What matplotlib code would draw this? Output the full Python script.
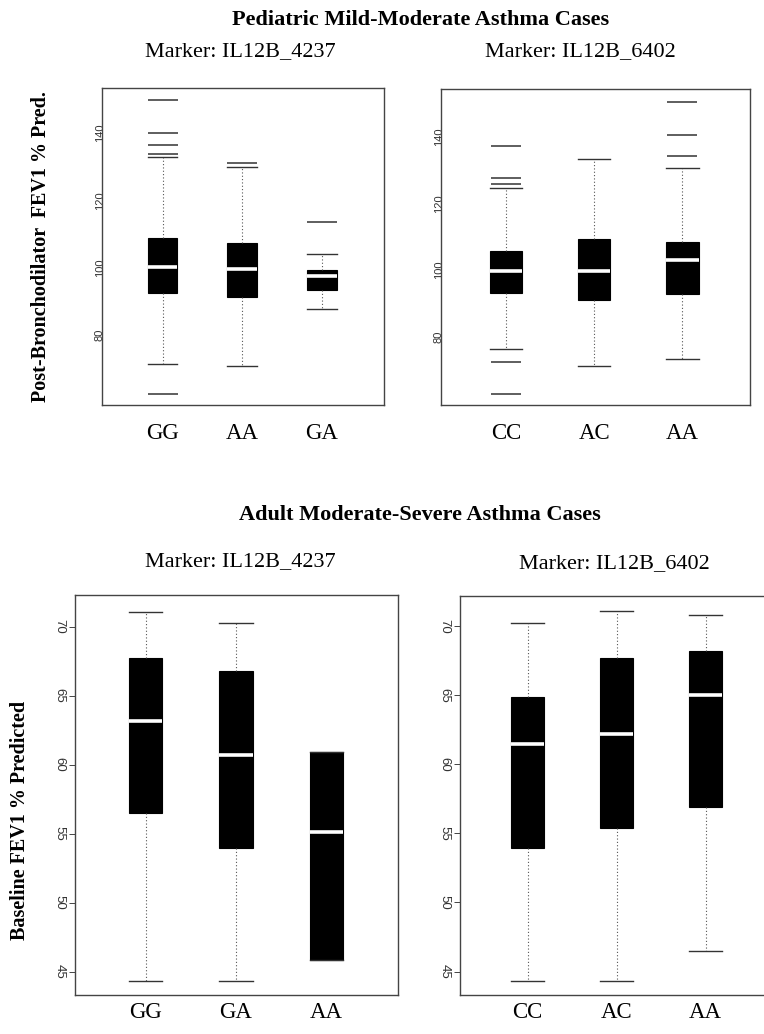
import matplotlib
matplotlib.use("Agg")
import matplotlib.pyplot as plt

# ---------------- data ----------------
ped_4237_groups = ["GG", "AA", "GA"]
ped_4237_whislo = [71.6, 70.9, 87.9]
ped_4237_q1 = [92.4, 91.4, 93.4]
ped_4237_med = [100.3, 99.6, 97.6]
ped_4237_q3 = [108.8, 107.3, 99.3]
ped_4237_whishi = [132.8, 130.0, 104.0]
ped_4237_fliers = [[62.7, 133.8, 136.6, 140.0, 149.8], [131.2], [113.5]]

ped_6402_groups = ["CC", "AC", "AA"]
ped_6402_whislo = [76.3, 71.0, 73.2]
ped_6402_q1 = [93.0, 90.8, 92.7]
ped_6402_med = [99.7, 99.5, 102.8]
ped_6402_q3 = [105.7, 109.3, 108.3]
ped_6402_whishi = [124.7, 133.3, 130.7]
ped_6402_fliers = [[62.6, 72.4, 125.7, 127.7, 137.3], [], [134.2, 140.5, 150.5]]

adu_4237_groups = ["GG", "GA", "AA"]
adu_4237_whislo = [44.35, 44.35, 45.85]
adu_4237_q1 = [56.5, 53.95, 45.85]
adu_4237_med = [63.2, 60.7, 55.1]
adu_4237_q3 = [67.7, 66.8, 60.95]
adu_4237_whishi = [71.1, 70.25, 60.95]
adu_4237_fliers = [[], [], []]

adu_6402_groups = ["CC", "AC", "AA"]
adu_6402_whislo = [44.35, 44.35, 46.5]
adu_6402_q1 = [53.95, 55.4, 56.9]
adu_6402_med = [61.5, 62.2, 65.0]
adu_6402_q3 = [64.85, 67.7, 68.25]
adu_6402_whishi = [70.25, 71.1, 70.8]
adu_6402_fliers = [[], [], []]

ped_ticks = [80, 100, 120, 140]
adu_ticks = [45, 50, 55, 60, 65, 70]

SERIF = "Liberation Serif"
SANS = "Liberation Sans"

W, H = 764, 1034
fig = plt.figure(figsize=(W / 100, H / 100), dpi=100)
fig.patch.set_facecolor("white")


def rect(x0, y0, x1, y1):
    return [x0 / W, 1 - y1 / H, (x1 - x0) / W, (y1 - y0) / H]


def make_stats(groups, lo, q1, med, q3, hi, fl):
    return [dict(label=g, whislo=a, q1=b, med=c, q3=d, whishi=e, fliers=f)
            for g, a, b, c, d, e, f in zip(groups, lo, q1, med, q3, hi, fl)]


def panel(pos, stats, xlim, ylim, ticks, rot, ticklen, labelpad, xlabpad, tfs):
    ax = fig.add_axes(pos)
    ax.bxp(stats, positions=[1, 2, 3], widths=0.37, capwidths=0.37,
           patch_artist=True, showfliers=True,
           boxprops=dict(facecolor="black", edgecolor="black", linewidth=0.8),
           medianprops=dict(color="white", linewidth=2.6, solid_capstyle="butt"),
           whiskerprops=dict(color="#555555", linewidth=0.8, linestyle=(0, (1, 2))),
           capprops=dict(color="#333333", linewidth=1.0),
           flierprops=dict(marker="_", markersize=22, markeredgewidth=1.1,
                           markeredgecolor="#333333", linestyle="none"))
    ax.set_xlim(*xlim)
    ax.set_ylim(*ylim)
    ax.set_yticks(ticks)
    ax.set_yticklabels([str(t) for t in ticks], rotation=rot, va="center",
                       ha="center", fontsize=tfs, family=SANS, color="#333333")
    ax.tick_params(axis="y", length=ticklen, width=0.7, pad=labelpad, color="#444444")
    ax.set_xticks([1, 2, 3])
    ax.set_xticklabels([s["label"] for s in stats], fontsize=16.5, family=SERIF)
    ax.tick_params(axis="x", length=0, pad=xlabpad)
    for sp in ax.spines.values():
        sp.set_color("#444444")
        sp.set_linewidth(1.0)
    return ax


panel(rect(102, 88, 384, 405),
      make_stats(ped_4237_groups, ped_4237_whislo, ped_4237_q1, ped_4237_med,
                 ped_4237_q3, ped_4237_whishi, ped_4237_fliers),
      (0.24, 3.78), (59.3, 153.4), ped_ticks, 90, 0, 1.5, 13, 8)

panel(rect(441, 89, 750, 405),
      make_stats(ped_6402_groups, ped_6402_whislo, ped_6402_q1, ped_6402_med,
                 ped_6402_q3, ped_6402_whishi, ped_6402_fliers),
      (0.26, 3.77), (59.4, 154.3), ped_ticks, 90, 0, 1.5, 13, 8)

panel(rect(75, 595, 398, 995),
      make_stats(adu_4237_groups, adu_4237_whislo, adu_4237_q1, adu_4237_med,
                 adu_4237_q3, adu_4237_whishi, adu_4237_fliers),
      (0.22, 3.79), (43.3, 72.3), adu_ticks, -90, 4, 7, 5, 9.5)

panel(rect(460, 596, 775, 995),
      make_stats(adu_6402_groups, adu_6402_whislo, adu_6402_q1, adu_6402_med,
                 adu_6402_q3, adu_6402_whishi, adu_6402_fliers),
      (0.24, 3.78), (43.3, 72.2), adu_ticks, -90, 4, 7, 5, 9.5)

# ---------------- texts ----------------
def ftext(x, y, s, **kw):
    fig.text(x / W, 1 - y / H, s, ha="center", va="center", family=SERIF, **kw)

ftext(421, 20, "Pediatric Mild-Moderate Asthma Cases", fontsize=16, fontweight="bold")
ftext(240, 52, "Marker: IL12B_4237", fontsize=16)
ftext(580, 52, "Marker: IL12B_6402", fontsize=16)
ftext(41, 247, "Post-Bronchodilator  FEV1 % Pred.", fontsize=14.5,
      fontweight="bold", rotation=90)

ftext(420, 515, "Adult Moderate-Severe Asthma Cases", fontsize=16, fontweight="bold")
ftext(240, 562, "Marker: IL12B_4237", fontsize=16)
ftext(614, 564, "Marker: IL12B_6402", fontsize=16)
ftext(20, 820, "Baseline FEV1 % Predicted", fontsize=14.5,
      fontweight="bold", rotation=90)

fig.savefig("out.png", dpi=100, facecolor="white")
